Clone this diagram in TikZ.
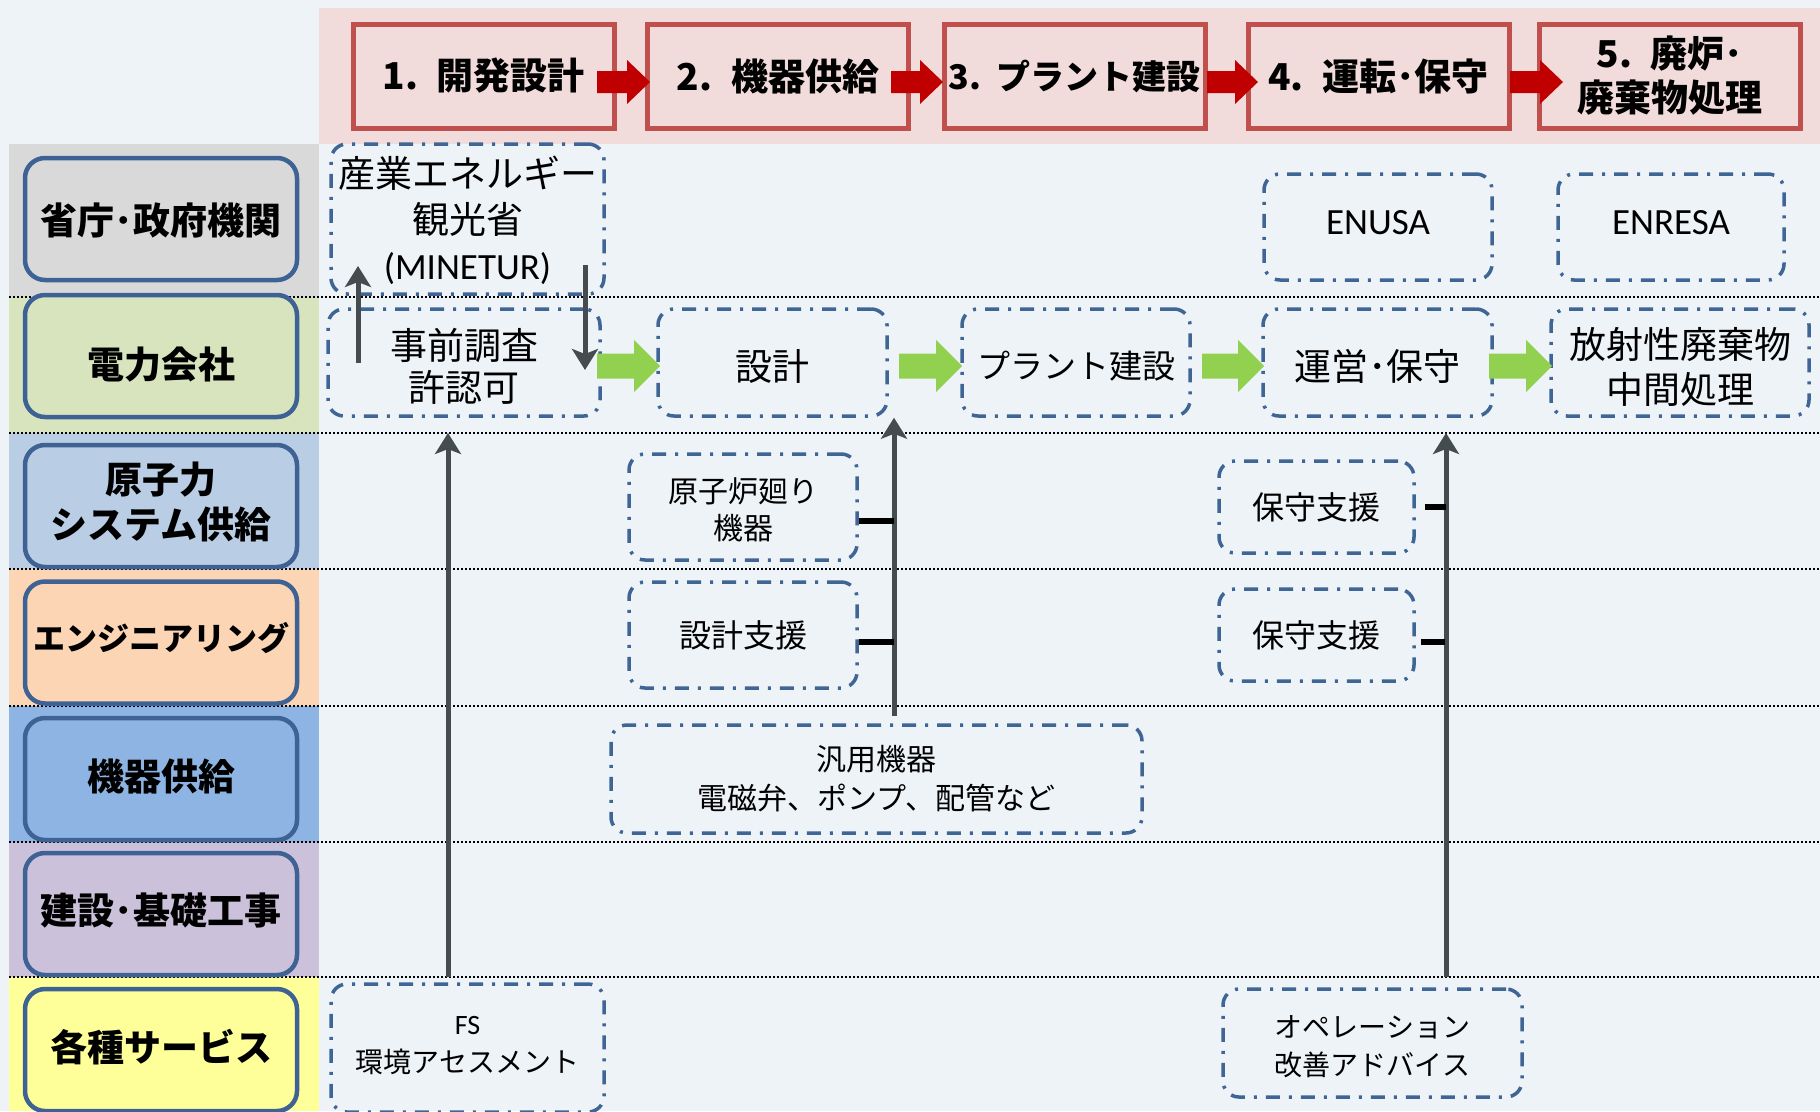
\documentclass[tikz,border=0pt]{standalone}
\usepackage{fontspec}
\setmainfont{Carlito}
\newfontfamily\jp{Noto Sans CJK JP}
\usetikzlibrary{arrows.meta}
\definecolor{bgc}{HTML}{EEF3F8}
\definecolor{bandpink}{HTML}{F2DBDB}
\definecolor{hdrfill}{HTML}{F2DCDB}
\definecolor{hdrred}{HTML}{C0504D}
\definecolor{arrred}{HTML}{C00000}
\definecolor{arrgreen}{HTML}{92D050}
\definecolor{arrgray}{HTML}{454C50}
\definecolor{labelblue}{HTML}{3D6293}
\definecolor{dashblue}{HTML}{3E6594}
\definecolor{lgov}{HTML}{D9D9D9}
\definecolor{lele}{HTML}{D7E4BD}
\definecolor{lnuc}{HTML}{B9CDE5}
\definecolor{leng}{HTML}{FCD5B5}
\definecolor{lequ}{HTML}{8EB4E3}
\definecolor{lcon}{HTML}{CCC1DA}
\definecolor{lser}{HTML}{FFFF99}
\newcommand\fsz[2]{\fontsize{#1}{#2}\selectfont}
% block arrow: x0, x1, yc, half shaft, half head, head length, colour
\newcommand\blkarrow[7]{\fill[#7] (#1,#3-#4) -- (#2-#6,#3-#4) -- (#2-#6,#3-#5) -- (#2,#3) -- (#2-#6,#3+#5) -- (#2-#6,#3+#4) -- (#1,#3+#4) -- cycle;}
\begin{document}
\begin{tikzpicture}[x=1pt,y=-1pt,
  lanelabel/.style={draw=labelblue, line width=4.5pt, rounded corners=20pt, minimum width=272pt, minimum height=122pt, inner sep=0pt},
  labeltext/.style={inner sep=0pt, align=center, font=\jp\bfseries\fsz{37}{45}},
  hdr/.style={draw=hdrred, fill=hdrfill, line width=5pt, minimum width=261pt, minimum height=104pt, inner sep=0pt, align=center, font=\jp\bfseries\fsz{37}{44}},
  dbox/.style={draw=dashblue, line width=3.5pt, dash pattern=on 14pt off 9pt on 3pt off 9pt, rounded corners=16pt, inner sep=0pt},
  btext/.style={inner sep=0pt, align=center, font=\jp\fsz{37}{45}},
  ga/.style={draw=arrgray, line width=5pt, -{Stealth[length=21pt,width=26pt,inset=5pt]}},
  tick/.style={draw=black, line width=6pt},
  laneline/.style={draw=black, line width=2.5pt, dash pattern=on 2pt off 2pt}
]
\useasboundingbox (0,0) rectangle (1820,1111);
\fill[bgc] (0,0) rectangle (1820,1111);
% header band
\fill[bandpink] (319,8) rectangle (1820,144);
% left lane colours
\fill[lgov] (9,144) rectangle (319,297);
\fill[lele] (9,297) rectangle (319,433);
\fill[lnuc] (9,433) rectangle (319,569);
\fill[leng] (9,569) rectangle (319,706);
\fill[lequ] (9,706) rectangle (319,842);
\fill[lcon] (9,842) rectangle (319,977);
\fill[lser] (9,977) rectangle (319,1111);
% lane separators
\foreach \yy in {297,433,569,706,842,977} {\draw[laneline] (9,\yy) -- (1820,\yy);}
% lane labels
\node[lanelabel, fill=lgov] (gov) at (161,219) {};
\node[lanelabel, fill=lele] (ele) at (161,356) {};
\node[lanelabel, fill=lnuc] (nuc) at (161,506) {};
\node[lanelabel, fill=leng] (eng) at (161,642.5) {};
\node[lanelabel, fill=lequ] (equ) at (161,779) {};
\node[lanelabel, fill=lcon] (con) at (161,914) {};
\node[lanelabel, fill=lser] (ser) at (161,1050) {};
\node[labeltext] (govt) at ([yshift=-2pt]gov.center) {省庁･政府機関};
\node[labeltext] (elet) at ([yshift=-9pt]ele.center) {電力会社};
\node[labeltext] (nuct) at ([yshift=4pt]nuc.center) {原子力\\システム供給};
\node[labeltext, font=\jp\bfseries\fsz{32}{40}] (engt) at ([yshift=4pt]eng.center) {エンジニアリング};
\node[labeltext] (equt) at ([yshift=3pt]equ.center) {機器供給};
\node[labeltext] (cont) at ([yshift=3pt]con.center) {建設･基礎工事};
\node[labeltext] (sert) at ([yshift=3pt]ser.center) {各種サービス};
% header steps
\node[hdr] (h1) at (483.5,76) {1.\hspace{0.5em}開発設計};
\node[hdr] (h2) at (778,76) {2.\hspace{0.5em}機器供給};
\node[hdr, font=\jp\bfseries\fsz{34}{40}] (h3) at (1074.5,76) {3.\hspace{0.45em}プラント建設};
\node[hdr] (h4) at (1378.5,76) {4.\hspace{0.5em}運転･保守};
\node[hdr] (h5) at (1670,76) {5.\hspace{0.5em}廃炉･\\廃棄物処理};
\blkarrow{597}{650}{82}{11}{22}{23}{arrred}
\blkarrow{891}{943}{82}{11}{22}{23}{arrred}
\blkarrow{1207}{1258}{82}{11}{22}{23}{arrred}
\blkarrow{1510}{1563}{82}{11}{22}{23}{arrred}
% government lane
\node[dbox, minimum width=273pt, minimum height=150pt] (minetur) at (467.5,219) {};
\node[btext, font=\jp\fsz{37}{46}] (minetur-t) at ([yshift=-1pt]minetur.center) {産業エネルギー\\観光省\\{\rmfamily (MINETUR)}};
\node[dbox, minimum width=228pt, minimum height=106pt] (enusa) at (1378,227) {};
\node[btext, font=\rmfamily\fsz{37}{45}] (enusa-t) at ([yshift=4pt]enusa.center) {ENUSA};
\node[dbox, minimum width=226pt, minimum height=106pt] (enresa) at (1671,227) {};
\node[btext, font=\rmfamily\fsz{37}{45}] (enresa-t) at ([yshift=4pt]enresa.center) {ENRESA};
% electric lane
\node[dbox, minimum width=272pt, minimum height=107pt] (jizen) at (464,362.5) {};
\node[btext, font=\jp\fsz{37}{42}] (jizen-t) at ([yshift=-4pt]jizen.center) {事前調査\\許認可};
\node[dbox, minimum width=229pt, minimum height=107pt] (sekkei) at (772.5,362.5) {};
\node[btext] (sekkei-t) at ([yshift=-4pt]sekkei.center) {設計};
\node[dbox, minimum width=228pt, minimum height=107pt] (plant) at (1076,362.5) {};
\node[btext, font=\jp\fsz{33}{40}] (plant-t) at ([yshift=-4pt]plant.center) {プラント建設};
\node[dbox, minimum width=229pt, minimum height=107pt] (unei) at (1377.5,362.5) {};
\node[btext] (unei-t) at ([yshift=-4pt]unei.center) {運営･保守};
\node[dbox, minimum width=258pt, minimum height=107pt] (housha) at (1680,362.5) {};
\node[btext] (housha-t) at ([yshift=-4pt]housha.center) {放射性廃棄物\\中間処理};
\blkarrow{597}{660}{366}{12.5}{26}{26}{arrgreen}
\blkarrow{899}{962}{366}{12.5}{26}{26}{arrgreen}
\blkarrow{1202}{1264}{366}{12.5}{26}{26}{arrgreen}
\blkarrow{1489}{1552}{366}{12.5}{26}{26}{arrgreen}
% nuclear / engineering / equipment lanes
\node[dbox, minimum width=228pt, minimum height=106pt] (genshiro) at (743,507) {};
\node[btext, font=\jp\fsz{30}{37}] (genshiro-t) at ([yshift=-3pt]genshiro.center) {原子炉廻り\\機器};
\node[dbox, minimum width=195pt, minimum height=92pt] (hoshuA) at (1316.5,507) {};
\node[btext, font=\jp\fsz{32}{38}] (hoshuA-t) at (hoshuA.center) {保守支援};
\node[dbox, minimum width=228pt, minimum height=106pt] (sshien) at (743,635) {};
\node[btext, font=\jp\fsz{32}{38}] (sshien-t) at (sshien.center) {設計支援};
\node[dbox, minimum width=195pt, minimum height=92pt] (hoshuB) at (1316.5,635) {};
\node[btext, font=\jp\fsz{32}{38}] (hoshuB-t) at (hoshuB.center) {保守支援};
\node[dbox, minimum width=531pt, minimum height=108pt] (hanyou) at (876.5,779) {};
\node[btext, font=\jp\fsz{30}{39}] (hanyou-t) at (hanyou.center) {汎用機器\\電磁弁、ポンプ、配管など};
% services lane
\node[dbox, minimum width=273pt, minimum height=128pt] (fs) at (467.5,1048) {};
\node[btext, font=\jp\fsz{28}{38}] (fs-t) at ([yshift=2pt]fs.center) {{\rmfamily FS}\\環境アセスメント};
\node[dbox, minimum width=299pt, minimum height=108pt] (ope) at (1372.5,1043) {};
\node[btext, font=\jp\fsz{28}{38}] (ope-t) at ([yshift=-4pt]ope.center) {オペレーション\\改善アドバイス};
% gray connectors
\coordinate (upS) at (358,363);
\coordinate (upE) at (358,266);
\coordinate (dnS) at (585,265);
\coordinate (dnE) at (585,370);
\draw[ga] (upS) -- (upE);
\draw[ga] (dnS) -- (dnE);
\coordinate (aLs) at (448,977);
\coordinate (aLe) at (448,433);
\draw[ga] (aLs) -- (aLe);
\coordinate (aMs) at (894,716);
\draw[ga] (aMs) -- (aMs |- sekkei.south);
\coordinate (aRs) at (1446,977);
\coordinate (aRe) at (1446,433);
\draw[ga] (aRs) -- (aRe);
% ticks
\draw[tick] ([yshift=-14pt]genshiro.east) -- ++(35,0);
\draw[tick] ([yshift=-7pt]sshien.east) -- ++(35,0);
\draw[tick] ([xshift=9pt]hoshuA.east) -- ++(21,0);
\draw[tick] ([xshift=5pt,yshift=-7pt]hoshuB.east) -- ++(24,0);
\end{tikzpicture}
\end{document}
